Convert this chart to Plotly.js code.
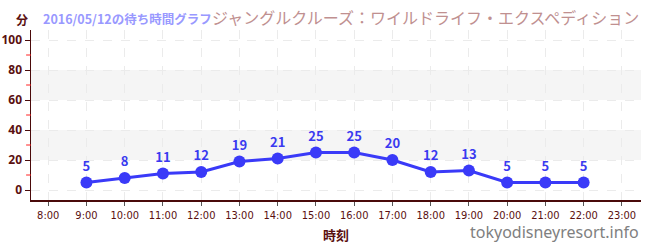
<!DOCTYPE html>
<html><head><meta charset="utf-8">
<script src="https://cdn.plot.ly/plotly-3.0.1.min.js"></script>
<style>body{margin:0;padding:0;background:#fff}#chart{width:650px;height:250px}</style>
</head><body><div id="chart"></div>
<script>
const hours = [9,10,11,12,13,14,15,16,17,18,19,20,21,22];
const waits = [5,8,11,12,19,21,25,25,20,12,13,5,5,5];
const tickVals = [8,9,10,11,12,13,14,15,16,17,18,19,20,21,22,23];
const tickText = tickVals.map(h => h + ':00');
const yTicks = [0,20,40,60,80,100];
const yMinor = [10,30,50,70,90];
const bands = [[20,40],[60,80]];
const titleDate = '2016/05/12の待ち時間グラフ';
const titleName = 'ジャングルクルーズ：ワイルドライフ・エクスペディション';
const FONT = 'Noto Sans CJK JP, Noto Sans, sans-serif';

const shapes = bands.map(b => ({type:'rect', xref:'paper', x0:0, x1:1, yref:'y', y0:b[0], y1:b[1], fillcolor:'#f5f5f5', line:{width:0}, layer:'below'}));
yMinor.forEach(v => shapes.push({type:'line', xref:'paper', x0:-0.008, x1:0, yref:'y', y0:v, y1:v, line:{color:'#ff2020', width:1}}));

const data = [{
  x: hours, y: waits, type:'scatter', mode:'lines+markers+text',
  text: waits.map(String), textposition:'top center',
  textfont:{family:FONT, size:13, color:'#3a3af0', weight:'bold'},
  line:{color:'#3a3af8', width:3},
  marker:{color:'#3a3af8', size:12},
  cliponaxis:false, hoverinfo:'none'
}];

const layout = {
  width:650, height:250,
  margin:{l:31, r:9, t:30, b:50},
  paper_bgcolor:'#fff', plot_bgcolor:'#fff',
  showlegend:false,
  font:{family:FONT},
  xaxis:{
    range:[7.55,23.5], tickvals:tickVals, ticktext:tickText,
    showgrid:true, gridcolor:'#ebebeb', griddash:'dash', gridwidth:1,
    zeroline:false, showline:true, linecolor:'#4a0a0a', linewidth:1.5,
    ticks:'outside', ticklen:4, tickcolor:'#555',
    tickfont:{family:'Liberation Sans Narrow, DejaVu Sans Condensed, sans-serif', size:11, color:'#5a1010'},
    title:{text:'時刻', font:{family:FONT, size:13, color:'#5a1010', weight:'bold'}, standoff:10}
  },
  yaxis:{
    range:[-6.67,106.67], tickvals:yTicks,
    showgrid:true, gridcolor:'#ebebeb', griddash:'dash', gridwidth:1,
    zeroline:false, showline:true, linecolor:'#4a0a0a', linewidth:1.5,
    ticks:'outside', ticklen:5, tickcolor:'#4a0a0a',
    tickfont:{family:'Noto Sans, sans-serif', size:12, color:'#5a1010', weight:'bold'}
  },
  shapes: shapes,
  annotations:[
    {xref:'paper', yref:'paper', x:-0.028, y:1.0, xanchor:'left', yanchor:'bottom', text:'<b>分</b>', showarrow:false, font:{family:FONT, size:12, color:'#5a1010'}},
    {xref:'paper', yref:'paper', x:0.016, y:1.0, xanchor:'left', yanchor:'bottom', text:titleDate, showarrow:false, font:{family:FONT, size:12.5, color:'#9999ff', weight:'bold'}},
    {xref:'paper', yref:'paper', x:1.0, y:0.995, xanchor:'right', yanchor:'bottom', text:titleName, showarrow:false, font:{family:FONT, size:16, color:'#c09090'}},
    {xref:'paper', yref:'paper', x:1.0, y:-0.19, xanchor:'right', yanchor:'middle', text:'tokyodisneyresort.info', showarrow:false, font:{family:'Noto Sans, sans-serif', size:16, color:'#808080'}}
  ]
};
Plotly.newPlot('chart', data, layout, {displayModeBar:false, staticPlot:true});
</script></body></html>
